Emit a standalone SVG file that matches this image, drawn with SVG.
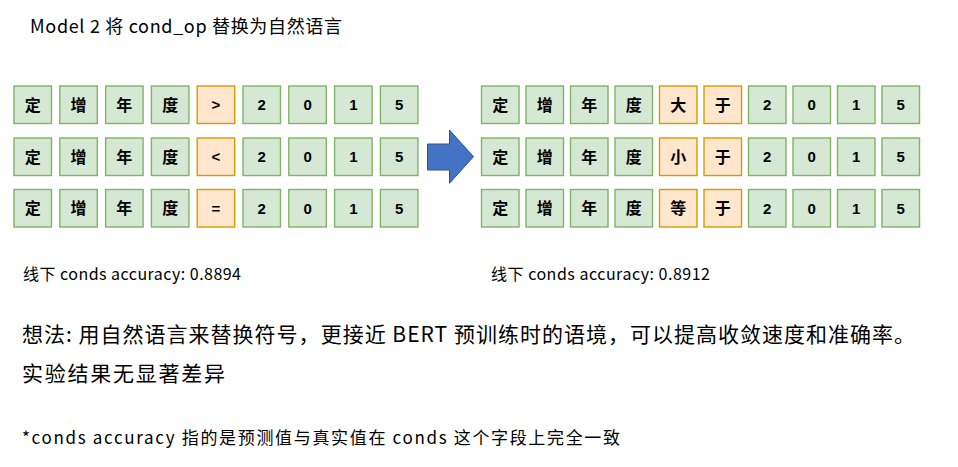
<svg xmlns="http://www.w3.org/2000/svg" width="958" height="467" viewBox="0 0 958 467">
<style>
.g rect{fill:#d5e8d4;stroke:#82b366;stroke-width:1.4}
.o rect{fill:#ffe6cc;stroke:#d79b00;stroke-width:1.4}
.n text{font-family:"Liberation Sans","Noto Sans CJK SC",sans-serif;font-weight:bold;font-size:15px;text-anchor:middle;fill:#000}
.n text.c{font-family:"Noto Sans CJK SC",sans-serif;font-size:16px}
.p{font-family:"Noto Sans CJK SC",sans-serif;fill:#000}
</style>
<rect width="958" height="467" fill="#fff"/>
<text class="p" x="30" y="33" font-size="18" textLength="312" lengthAdjust="spacing">Model 2 将 cond_op 替换为自然语言</text>

<!-- left rows -->
<g id="L1">
<g id="L1_1" class="n g"><rect x="14" y="86" width="37.5" height="37.5"/><text class="c" x="32.75" y="110.5">定</text></g>
<g id="L1_2" class="n g"><rect x="59.8" y="86" width="37.5" height="37.5"/><text class="c" x="78.55" y="110.5">增</text></g>
<g id="L1_3" class="n g"><rect x="105.6" y="86" width="37.5" height="37.5"/><text class="c" x="124.35" y="110.5">年</text></g>
<g id="L1_4" class="n g"><rect x="151.4" y="86" width="37.5" height="37.5"/><text class="c" x="170.15" y="110.5">度</text></g>
<g id="L1_5" class="n o"><rect x="197.2" y="86" width="37.5" height="37.5"/><text x="215.95" y="110">&gt;</text></g>
<g id="L1_6" class="n g"><rect x="243" y="86" width="37.5" height="37.5"/><text x="261.75" y="110">2</text></g>
<g id="L1_7" class="n g"><rect x="288.8" y="86" width="37.5" height="37.5"/><text x="307.55" y="110">0</text></g>
<g id="L1_8" class="n g"><rect x="334.6" y="86" width="37.5" height="37.5"/><text x="353.35" y="110">1</text></g>
<g id="L1_9" class="n g"><rect x="380.4" y="86" width="37.5" height="37.5"/><text x="399.15" y="110">5</text></g>
</g>
<g id="L2">
<g id="L2_1" class="n g"><rect x="14" y="138" width="37.5" height="37.5"/><text class="c" x="32.75" y="162.5">定</text></g>
<g id="L2_2" class="n g"><rect x="59.8" y="138" width="37.5" height="37.5"/><text class="c" x="78.55" y="162.5">增</text></g>
<g id="L2_3" class="n g"><rect x="105.6" y="138" width="37.5" height="37.5"/><text class="c" x="124.35" y="162.5">年</text></g>
<g id="L2_4" class="n g"><rect x="151.4" y="138" width="37.5" height="37.5"/><text class="c" x="170.15" y="162.5">度</text></g>
<g id="L2_5" class="n o"><rect x="197.2" y="138" width="37.5" height="37.5"/><text x="215.95" y="162">&lt;</text></g>
<g id="L2_6" class="n g"><rect x="243" y="138" width="37.5" height="37.5"/><text x="261.75" y="162">2</text></g>
<g id="L2_7" class="n g"><rect x="288.8" y="138" width="37.5" height="37.5"/><text x="307.55" y="162">0</text></g>
<g id="L2_8" class="n g"><rect x="334.6" y="138" width="37.5" height="37.5"/><text x="353.35" y="162">1</text></g>
<g id="L2_9" class="n g"><rect x="380.4" y="138" width="37.5" height="37.5"/><text x="399.15" y="162">5</text></g>
</g>
<g id="L3">
<g id="L3_1" class="n g"><rect x="14" y="189.5" width="37.5" height="37.5"/><text class="c" x="32.75" y="214">定</text></g>
<g id="L3_2" class="n g"><rect x="59.8" y="189.5" width="37.5" height="37.5"/><text class="c" x="78.55" y="214">增</text></g>
<g id="L3_3" class="n g"><rect x="105.6" y="189.5" width="37.5" height="37.5"/><text class="c" x="124.35" y="214">年</text></g>
<g id="L3_4" class="n g"><rect x="151.4" y="189.5" width="37.5" height="37.5"/><text class="c" x="170.15" y="214">度</text></g>
<g id="L3_5" class="n o"><rect x="197.2" y="189.5" width="37.5" height="37.5"/><text x="215.95" y="213.5">=</text></g>
<g id="L3_6" class="n g"><rect x="243" y="189.5" width="37.5" height="37.5"/><text x="261.75" y="213.5">2</text></g>
<g id="L3_7" class="n g"><rect x="288.8" y="189.5" width="37.5" height="37.5"/><text x="307.55" y="213.5">0</text></g>
<g id="L3_8" class="n g"><rect x="334.6" y="189.5" width="37.5" height="37.5"/><text x="353.35" y="213.5">1</text></g>
<g id="L3_9" class="n g"><rect x="380.4" y="189.5" width="37.5" height="37.5"/><text x="399.15" y="213.5">5</text></g>
</g>

<!-- right rows -->
<g id="R1">
<g id="R1_1" class="n g"><rect x="481.5" y="86" width="37.5" height="37.5"/><text class="c" x="500.25" y="110.5">定</text></g>
<g id="R1_2" class="n g"><rect x="526" y="86" width="37.5" height="37.5"/><text class="c" x="544.75" y="110.5">增</text></g>
<g id="R1_3" class="n g"><rect x="570.5" y="86" width="37.5" height="37.5"/><text class="c" x="589.25" y="110.5">年</text></g>
<g id="R1_4" class="n g"><rect x="615" y="86" width="37.5" height="37.5"/><text class="c" x="633.75" y="110.5">度</text></g>
<g id="R1_5" class="n o"><rect x="659.5" y="86" width="37.5" height="37.5"/><text class="c" x="678.25" y="110.5">大</text></g>
<g id="R1_6" class="n o"><rect x="704" y="86" width="37.5" height="37.5"/><text class="c" x="722.75" y="110.5">于</text></g>
<g id="R1_7" class="n g"><rect x="748.5" y="86" width="37.5" height="37.5"/><text x="767.25" y="110">2</text></g>
<g id="R1_8" class="n g"><rect x="793" y="86" width="37.5" height="37.5"/><text x="811.75" y="110">0</text></g>
<g id="R1_9" class="n g"><rect x="837.5" y="86" width="37.5" height="37.5"/><text x="856.25" y="110">1</text></g>
<g id="R1_10" class="n g"><rect x="882" y="86" width="37.5" height="37.5"/><text x="900.75" y="110">5</text></g>
</g>
<g id="R2">
<g id="R2_1" class="n g"><rect x="481.5" y="138" width="37.5" height="37.5"/><text class="c" x="500.25" y="162.5">定</text></g>
<g id="R2_2" class="n g"><rect x="526" y="138" width="37.5" height="37.5"/><text class="c" x="544.75" y="162.5">增</text></g>
<g id="R2_3" class="n g"><rect x="570.5" y="138" width="37.5" height="37.5"/><text class="c" x="589.25" y="162.5">年</text></g>
<g id="R2_4" class="n g"><rect x="615" y="138" width="37.5" height="37.5"/><text class="c" x="633.75" y="162.5">度</text></g>
<g id="R2_5" class="n o"><rect x="659.5" y="138" width="37.5" height="37.5"/><text class="c" x="678.25" y="162.5">小</text></g>
<g id="R2_6" class="n o"><rect x="704" y="138" width="37.5" height="37.5"/><text class="c" x="722.75" y="162.5">于</text></g>
<g id="R2_7" class="n g"><rect x="748.5" y="138" width="37.5" height="37.5"/><text x="767.25" y="162">2</text></g>
<g id="R2_8" class="n g"><rect x="793" y="138" width="37.5" height="37.5"/><text x="811.75" y="162">0</text></g>
<g id="R2_9" class="n g"><rect x="837.5" y="138" width="37.5" height="37.5"/><text x="856.25" y="162">1</text></g>
<g id="R2_10" class="n g"><rect x="882" y="138" width="37.5" height="37.5"/><text x="900.75" y="162">5</text></g>
</g>
<g id="R3">
<g id="R3_1" class="n g"><rect x="481.5" y="189.5" width="37.5" height="37.5"/><text class="c" x="500.25" y="214">定</text></g>
<g id="R3_2" class="n g"><rect x="526" y="189.5" width="37.5" height="37.5"/><text class="c" x="544.75" y="214">增</text></g>
<g id="R3_3" class="n g"><rect x="570.5" y="189.5" width="37.5" height="37.5"/><text class="c" x="589.25" y="214">年</text></g>
<g id="R3_4" class="n g"><rect x="615" y="189.5" width="37.5" height="37.5"/><text class="c" x="633.75" y="214">度</text></g>
<g id="R3_5" class="n o"><rect x="659.5" y="189.5" width="37.5" height="37.5"/><text class="c" x="678.25" y="214">等</text></g>
<g id="R3_6" class="n o"><rect x="704" y="189.5" width="37.5" height="37.5"/><text class="c" x="722.75" y="214">于</text></g>
<g id="R3_7" class="n g"><rect x="748.5" y="189.5" width="37.5" height="37.5"/><text x="767.25" y="213.5">2</text></g>
<g id="R3_8" class="n g"><rect x="793" y="189.5" width="37.5" height="37.5"/><text x="811.75" y="213.5">0</text></g>
<g id="R3_9" class="n g"><rect x="837.5" y="189.5" width="37.5" height="37.5"/><text x="856.25" y="213.5">1</text></g>
<g id="R3_10" class="n g"><rect x="882" y="189.5" width="37.5" height="37.5"/><text x="900.75" y="213.5">5</text></g>
</g>

<g id="connectors">
<path d="M427.5,144 L449.5,144 L449.5,130 L473.5,156.7 L449.5,183.3 L449.5,170 L427.5,170 Z" fill="#4472c4" stroke="#2f528f" stroke-width="1"/>
</g>

<text class="p" x="23" y="280" font-size="16" textLength="218" lengthAdjust="spacing">线下 conds accuracy: 0.8894</text>
<text class="p" x="491" y="280" font-size="16" textLength="219" lengthAdjust="spacing">线下 conds accuracy: 0.8912</text>
<text class="p" x="22" y="342" font-size="21" textLength="893" lengthAdjust="spacing">想法: 用自然语言来替换符号，更接近 BERT 预训练时的语境，可以提高收敛速度和准确率。</text>
<text class="p" x="22" y="381" font-size="21" textLength="203" lengthAdjust="spacing">实验结果无显著差异</text>
<text class="p" x="22" y="444" font-size="17" textLength="598" lengthAdjust="spacing">*conds accuracy 指的是预测值与真实值在 conds 这个字段上完全一致</text>
</svg>
